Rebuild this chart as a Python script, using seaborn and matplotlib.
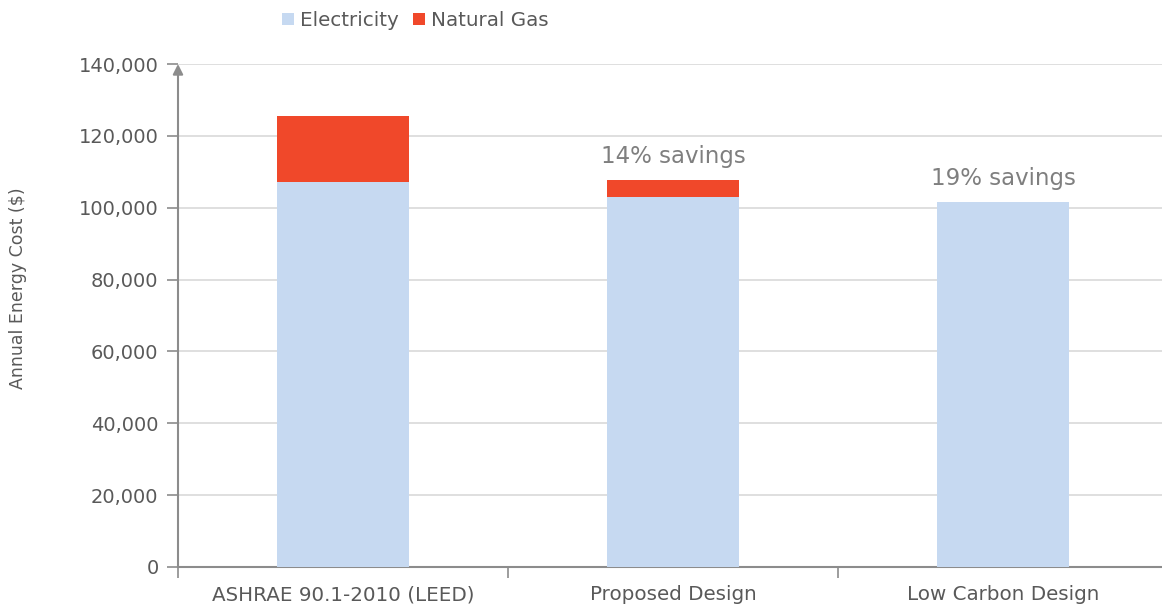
import matplotlib
matplotlib.use("Agg")
import matplotlib.pyplot as plt
from matplotlib.patches import Patch
from matplotlib.ticker import FuncFormatter, FixedLocator
import seaborn as sns
import pandas as pd

# Annual energy cost by design case ($)
cases = ["ASHRAE 90.1-2010 (LEED)", "Proposed Design", "Low Carbon Design"]
electricity = [107200, 103000, 101600]
natural_gas = [18300, 4700, 0]
savings_labels = ["", "14% savings", "19% savings"]

ELEC_COLOR = "#C6D9F1"
GAS_COLOR = "#F0482A"
TEXT_COLOR = "#595959"
NOTE_COLOR = "#7F7F7F"
AXIS_COLOR = "#8C8C8C"

totals = [e + g for e, g in zip(electricity, natural_gas)]
df = pd.DataFrame({"case": cases, "electricity": electricity,
                   "natural_gas": natural_gas, "total": totals})

sns.set_style("white")
plt.rcParams["font.family"] = ["DejaVu Sans"]

fig = plt.figure(figsize=(11.62, 6.10), dpi=100)
ax = fig.add_axes([178 / 1162, 1 - 567 / 610, 984 / 1162, (567 - 64) / 610])

# stacked bars: full total in gas colour, electricity drawn over it
sns.barplot(data=df, x="case", y="total", color=GAS_COLOR, width=0.4,
            saturation=1, ax=ax, zorder=3, linewidth=0, edgecolor="none")
sns.barplot(data=df, x="case", y="electricity", color=ELEC_COLOR, width=0.4,
            saturation=1, ax=ax, zorder=3, linewidth=0, edgecolor="none")

ax.set_xlim(-0.5, -0.5 + 984 / 330)
ax.set_ylim(0, 140000)
ax.set_yticks(range(0, 140001, 20000))
ax.yaxis.set_major_formatter(FuncFormatter(lambda v, p: f"{int(v):,}"))
ax.grid(axis="y", color="#D9D9D9", linewidth=1.2, zorder=0)
ax.set_axisbelow(True)

ax.set_xlabel("")
ax.set_ylabel("Annual Energy Cost ($)", fontsize=12.5, color=TEXT_COLOR)
ax.yaxis.set_label_coords((27 - 178) / 984, (567 - 288) / 503)

for s in ["top", "right", "left"]:
    ax.spines[s].set_visible(False)
ax.spines["bottom"].set_color(AXIS_COLOR)
ax.spines["bottom"].set_linewidth(1.5)

ax.tick_params(axis="y", colors=AXIS_COLOR, labelcolor=TEXT_COLOR, labelsize=14,
               length=8, width=1.2, left=True, direction="out", pad=6)
ax.tick_params(axis="x", which="major", length=0, labelcolor=TEXT_COLOR,
               labelsize=14.3, pad=13)
ax.xaxis.set_minor_locator(FixedLocator([-0.5, 0.5, 1.5]))
ax.tick_params(axis="x", which="minor", length=8, width=1.2, color=AXIS_COLOR,
               direction="out", bottom=True)

# vertical axis with arrowhead
ax.annotate("", xy=(0, 1.0), xycoords="axes fraction", xytext=(0, 0),
            textcoords="axes fraction",
            arrowprops=dict(arrowstyle="-|>,head_length=0.6,head_width=0.3",
                            color=AXIS_COLOR, lw=1.5, shrinkA=0, shrinkB=0),
            annotation_clip=False, zorder=5)

# savings annotations above bars
for i, (lab, tot) in enumerate(zip(savings_labels, totals)):
    if lab:
        ax.text(i, tot + 3400, lab, ha="center", va="bottom", fontsize=16.5,
                color=NOTE_COLOR, zorder=4)

handles = [Patch(facecolor=ELEC_COLOR, edgecolor="none", label="Electricity"),
           Patch(facecolor=GAS_COLOR, edgecolor="none", label="Natural Gas")]
fig.legend(handles=handles, loc="upper left", bbox_to_anchor=(264 / 1162, 1.0 + 7 / 610),
           ncol=2, frameon=False, fontsize=14.3, handlelength=0.6, handleheight=0.6,
           handletextpad=0.3, columnspacing=0.75, labelcolor=TEXT_COLOR)

fig.savefig("out.png", dpi=100)
